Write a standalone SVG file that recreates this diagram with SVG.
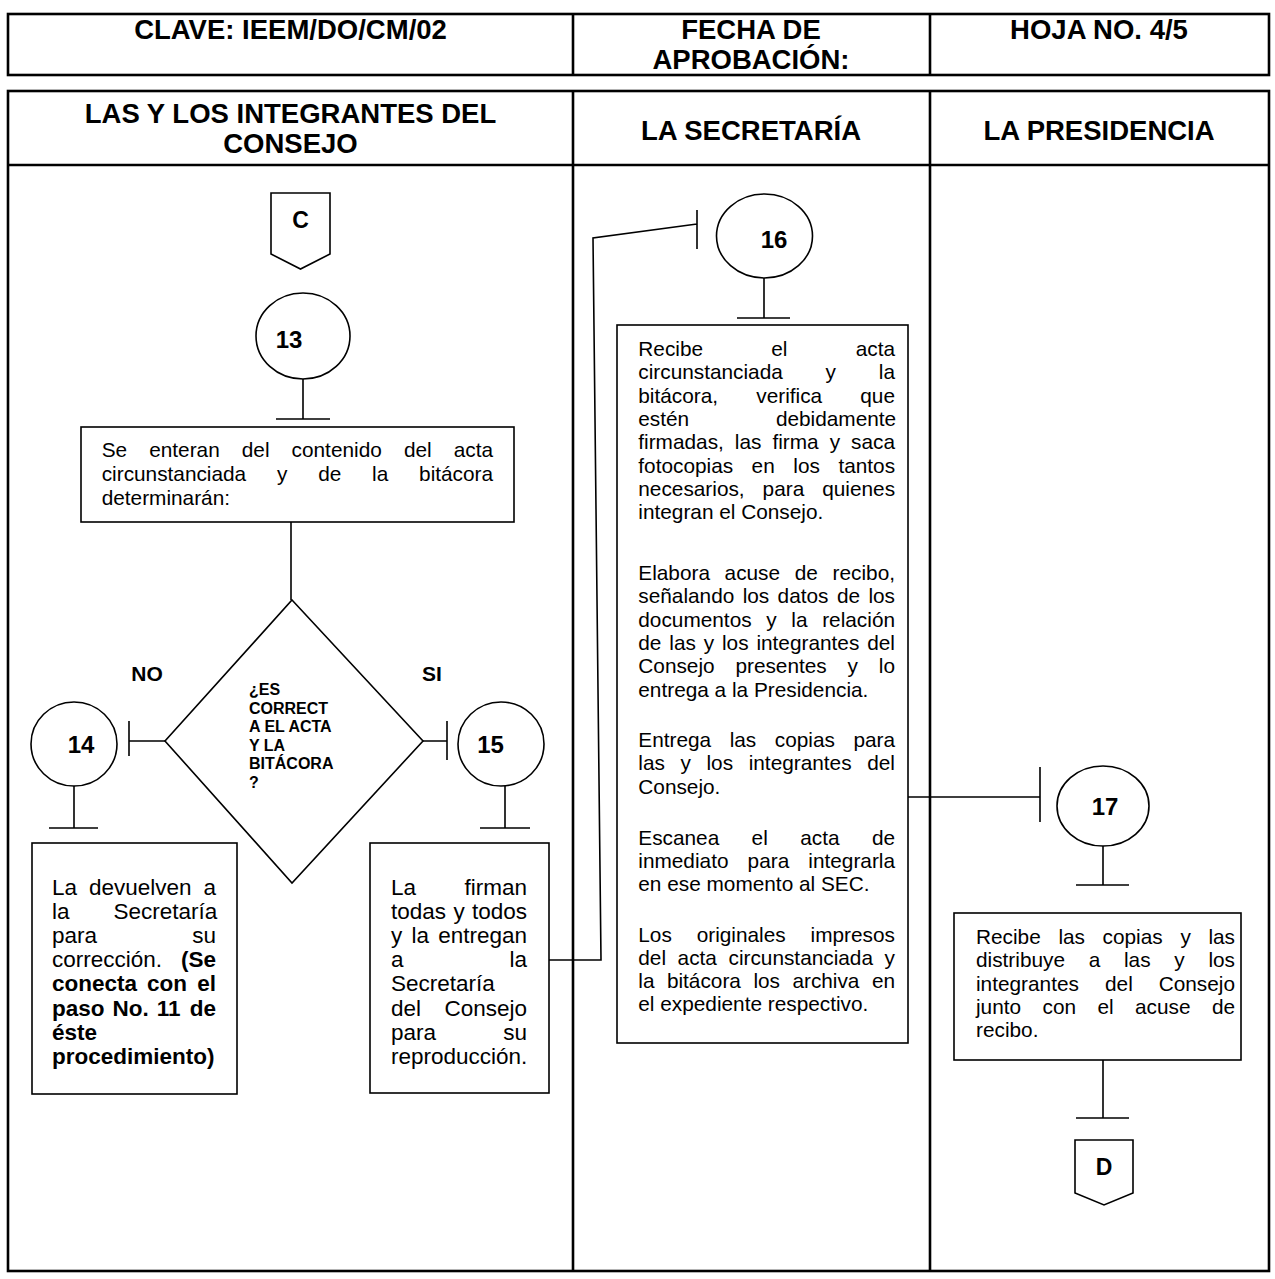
<svg xmlns="http://www.w3.org/2000/svg" width="1275" height="1279" viewBox="0 0 1275 1279">
<style>
text{font-family:"Liberation Sans",Arial,sans-serif;fill:#000}
.hdr{font-size:27.5px;font-weight:bold;text-anchor:middle}
.t{font-size:20.8px}
.t2{font-size:22.5px}
.b{font-weight:bold}
.num{font-size:24px;font-weight:bold;text-anchor:middle}
.lab{font-size:21px;font-weight:bold;text-anchor:middle}
.cl{font-size:23px;font-weight:bold;text-anchor:middle}
.dq{font-size:16px;font-weight:bold}
.tbl{fill:none;stroke:#000;stroke-width:2.6}
.shp{fill:#fff;stroke:#000;stroke-width:1.6}
.ln{fill:none;stroke:#000;stroke-width:1.6}
</style>
<rect width="1275" height="1279" fill="#fff"/>
<g id="table">
<rect class="tbl" x="8" y="14" width="1261" height="61"/>
<line class="tbl" x1="573" y1="14" x2="573" y2="75"/>
<line class="tbl" x1="930" y1="14" x2="930" y2="75"/>
<rect class="tbl" x="8" y="91" width="1261" height="1180"/>
<line class="tbl" x1="8" y1="165" x2="1269" y2="165"/>
<line class="tbl" x1="573" y1="91" x2="573" y2="1271"/>
<line class="tbl" x1="930" y1="91" x2="930" y2="1271"/>
<text class="hdr" x="290.5" y="39">CLAVE: IEEM/DO/CM/02</text>
<text class="hdr" x="751" y="39">FECHA DE</text>
<text class="hdr" x="751" y="69">APROBACIÓN:</text>
<text class="hdr" x="1099" y="39">HOJA NO. 4/5</text>
<text class="hdr" x="290.5" y="123">LAS Y LOS INTEGRANTES DEL</text>
<text class="hdr" x="290.5" y="153">CONSEJO</text>
<text class="hdr" x="751" y="140">LA SECRETARÍA</text>
<text class="hdr" x="1099" y="140">LA PRESIDENCIA</text>
</g>
<g id="connectors">
<path class="ln" d="M291 522V600"/>
<path class="ln" d="M303 379V419M276 419H330"/>
<path class="ln" d="M165 741H129M129 721V756"/>
<path class="ln" d="M423 741H447M447 721V760"/>
<path class="ln" d="M74 786V828M49 828H98"/>
<path class="ln" d="M505 786V828M480 828H530"/>
<path class="ln" d="M549 960H601L593 238L697 224M697 210V249"/>
<path class="ln" d="M764 278V318M737 318H790"/>
<path class="ln" d="M908 797H1040M1040 767V822"/>
<path class="ln" d="M1103 846V885M1076 885H1129"/>
<path class="ln" d="M1103 1060V1118M1076 1118H1129"/>
</g>
<g id="conn-C">
<path class="shp" d="M271 193H330V254L300.5 269L271 254Z"/>
<text class="cl" x="300.5" y="228">C</text>
</g>
<g id="step13">
<ellipse class="shp" cx="303" cy="336" rx="47" ry="43"/>
<text class="num" x="289" y="348">13</text>
</g>
<g id="box13">
<rect class="shp" x="81" y="427" width="433" height="95"/>
<text class="t" y="457"><tspan x="101.7">Se</tspan><tspan x="149.2">enteran</tspan><tspan x="241.8">del</tspan><tspan x="291.6">contenido</tspan><tspan x="403.9">del</tspan><tspan x="453.7">acta</tspan></text>
<text class="t" y="481"><tspan x="101.7">circunstanciada</tspan><tspan x="277">y</tspan><tspan x="318.2">de</tspan><tspan x="372.1">la</tspan><tspan x="419.1">bitácora</tspan></text>
<text class="t" x="101.7" y="505">determinarán:</text>
</g>
<g id="decision">
<path class="shp" d="M292 600L423 741L292 883L165 741Z"/>
<text class="dq"><tspan x="249" y="695">¿ES</tspan><tspan x="249" y="713.6">CORRECT</tspan><tspan x="249" y="732.2">A EL ACTA</tspan><tspan x="249" y="750.8">Y LA</tspan><tspan x="249" y="769.4">BITÁCORA</tspan><tspan x="249" y="788">?</tspan></text>
<text class="lab" x="147" y="681">NO</text>
<text class="lab" x="432" y="681">SI</text>
</g>
<g id="step14">
<ellipse class="shp" cx="74" cy="744" rx="43" ry="42"/>
<text class="num" x="81" y="753">14</text>
</g>
<g id="step15">
<ellipse class="shp" cx="501" cy="744" rx="43" ry="42"/>
<text class="num" x="490.5" y="753">15</text>
</g>
<g id="box14">
<rect class="shp" x="32" y="843" width="205" height="251"/>
<text class="t2" y="895"><tspan x="52">La</tspan><tspan x="89">devuelven</tspan><tspan x="203.5">a</tspan></text>
<text class="t2" y="919.1"><tspan x="52">la</tspan><tspan x="113.5">Secretaría</tspan></text>
<text class="t2" y="943.2"><tspan x="52">para</tspan><tspan x="192.2">su</tspan></text>
<text class="t2" y="967.3"><tspan x="52">corrección.</tspan><tspan x="181" class="b">(Se</tspan></text>
<text class="t2 b" y="991.4"><tspan x="52">conecta</tspan><tspan x="147.1">con</tspan><tspan x="197.2">el</tspan></text>
<text class="t2 b" y="1015.5"><tspan x="52">paso</tspan><tspan x="112.5">No.</tspan><tspan x="156.7">11</tspan><tspan x="189.7">de</tspan></text>
<text class="t2 b" x="52" y="1039.6">éste</text>
<text class="t2 b" x="52" y="1063.7">procedimiento)</text>
</g>
<g id="box15">
<rect class="shp" x="370" y="843" width="179" height="250"/>
<text class="t2" y="895"><tspan x="391">La</tspan><tspan x="464.5">firman</tspan></text>
<text class="t2" y="919.1"><tspan x="391">todas</tspan><tspan x="453.4">y</tspan><tspan x="472">todos</tspan></text>
<text class="t2" y="943.2"><tspan x="391">y</tspan><tspan x="411.5">la</tspan><tspan x="438.2">entregan</tspan></text>
<text class="t2" y="967.3"><tspan x="391">a</tspan><tspan x="509.5">la</tspan></text>
<text class="t2" x="391" y="991.4">Secretaría</text>
<text class="t2" y="1015.5"><tspan x="391">del</tspan><tspan x="444.5">Consejo</tspan></text>
<text class="t2" y="1039.6"><tspan x="391">para</tspan><tspan x="503.2">su</tspan></text>
<text class="t2" x="391" y="1063.7">reproducción.</text>
</g>
<g id="step16">
<ellipse class="shp" cx="764.5" cy="236" rx="48" ry="42"/>
<text class="num" x="774" y="248">16</text>
</g>
<g id="box16">
<rect class="shp" x="617" y="325" width="291" height="718"/>
<text class="t" y="356"><tspan x="638.3">Recibe</tspan><tspan x="771.3">el</tspan><tspan x="855.7">acta</tspan></text>
<text class="t" y="379.3"><tspan x="638.3">circunstanciada</tspan><tspan x="825.6">y</tspan><tspan x="878.8">la</tspan></text>
<text class="t" y="402.6"><tspan x="638.3">bitácora,</tspan><tspan x="756.3">verifica</tspan><tspan x="860.3">que</tspan></text>
<text class="t" y="425.9"><tspan x="638.3">estén</tspan><tspan x="775.9">debidamente</tspan></text>
<text class="t" y="449.2"><tspan x="638.3">firmadas,</tspan><tspan x="734.8">las</tspan><tspan x="772.4">firma</tspan><tspan x="829.7">y</tspan><tspan x="851.1">saca</tspan></text>
<text class="t" y="472.5"><tspan x="638.3">fotocopias</tspan><tspan x="751.6">en</tspan><tspan x="793.3">los</tspan><tspan x="838.4">tantos</tspan></text>
<text class="t" y="495.8"><tspan x="638.3">necesarios,</tspan><tspan x="762.6">para</tspan><tspan x="822.2">quienes</tspan></text>
<text class="t" x="638.3" y="519.1">integran el Consejo.</text>
<text class="t" y="580"><tspan x="638.3">Elabora</tspan><tspan x="724.6">acuse</tspan><tspan x="794.8">de</tspan><tspan x="832.6">recibo,</tspan></text>
<text class="t" y="603.3"><tspan x="638.3">señalando</tspan><tspan x="742.7">los</tspan><tspan x="777.6">datos</tspan><tspan x="836.9">de</tspan><tspan x="868.4">los</tspan></text>
<text class="t" y="626.6"><tspan x="638.3">documentos</tspan><tspan x="766.3">y</tspan><tspan x="791.3">la</tspan><tspan x="822.2">relación</tspan></text>
<text class="t" y="649.9"><tspan x="638.3">de</tspan><tspan x="669.3">las</tspan><tspan x="703.7">y</tspan><tspan x="722">los</tspan><tspan x="756.4">integrantes</tspan><tspan x="867.2">del</tspan></text>
<text class="t" y="673.2"><tspan x="638.3">Consejo</tspan><tspan x="735.4">presentes</tspan><tspan x="847.6">y</tspan><tspan x="878.8">lo</tspan></text>
<text class="t" x="638.3" y="696.5">entrega a la Presidencia.</text>
<text class="t" y="747"><tspan x="638.3">Entrega</tspan><tspan x="729.7">las</tspan><tspan x="774.8">copias</tspan><tspan x="853.4">para</tspan></text>
<text class="t" y="770.3"><tspan x="638.3">las</tspan><tspan x="680.5">y</tspan><tspan x="706.5">los</tspan><tspan x="748.7">integrantes</tspan><tspan x="867.2">del</tspan></text>
<text class="t" x="638.3" y="793.6">Consejo.</text>
<text class="t" y="844.5"><tspan x="638.3">Escanea</tspan><tspan x="751.6">el</tspan><tspan x="800.2">acta</tspan><tspan x="871.9">de</tspan></text>
<text class="t" y="867.8"><tspan x="638.3">inmediato</tspan><tspan x="747.6">para</tspan><tspan x="808.3">integrarla</tspan></text>
<text class="t" x="638.3" y="891.1">en ese momento al SEC.</text>
<text class="t" y="941.5"><tspan x="638.3">Los</tspan><tspan x="696.7">originales</tspan><tspan x="810.6">impresos</tspan></text>
<text class="t" y="964.8"><tspan x="638.3">del</tspan><tspan x="677.6">acta</tspan><tspan x="728.5">circunstanciada</tspan><tspan x="884.6">y</tspan></text>
<text class="t" y="988.1"><tspan x="638.3">la</tspan><tspan x="666.9">bitácora</tspan><tspan x="753.4">los</tspan><tspan x="792.4">archiva</tspan><tspan x="871.9">en</tspan></text>
<text class="t" x="638.3" y="1011.4">el expediente respectivo.</text>
</g>
<g id="step17">
<ellipse class="shp" cx="1103" cy="806" rx="46" ry="40"/>
<text class="num" x="1105" y="815">17</text>
</g>
<g id="box17">
<rect class="shp" x="954" y="913" width="287" height="147"/>
<text class="t" y="944"><tspan x="976">Recibe</tspan><tspan x="1058.4">las</tspan><tspan x="1102.6">copias</tspan><tspan x="1180.4">y</tspan><tspan x="1208.4">las</tspan></text>
<text class="t" y="967.3"><tspan x="976">distribuye</tspan><tspan x="1088.7">a</tspan><tspan x="1124">las</tspan><tspan x="1174.3">y</tspan><tspan x="1208.4">los</tspan></text>
<text class="t" y="990.6"><tspan x="976">integrantes</tspan><tspan x="1105">del</tspan><tspan x="1158.7">Consejo</tspan></text>
<text class="t" y="1013.9"><tspan x="976">junto</tspan><tspan x="1042.5">con</tspan><tspan x="1097.4">el</tspan><tspan x="1135">acuse</tspan><tspan x="1211.9">de</tspan></text>
<text class="t" x="976" y="1037.2">recibo.</text>
</g>
<g id="conn-D">
<path class="shp" d="M1075 1140H1133V1193L1104 1205L1075 1193Z"/>
<text class="cl" x="1104" y="1175">D</text>
</g>
</svg>
